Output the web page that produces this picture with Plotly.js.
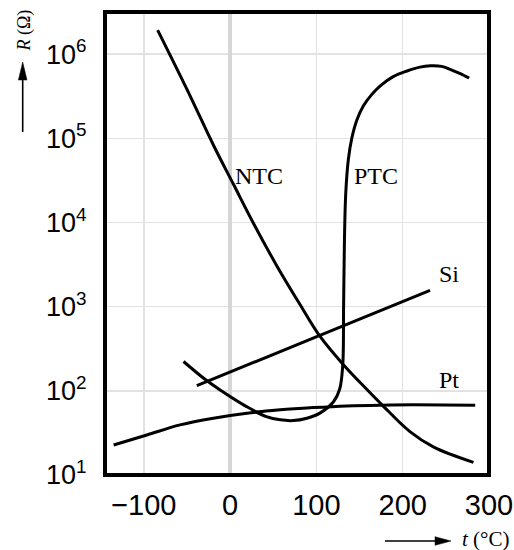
<!DOCTYPE html>
<html>
<head>
<meta charset="utf-8">
<script src="https://cdn.plot.ly/plotly-3.0.1.min.js"></script>
<style>html,body{margin:0;padding:0;background:#fff}</style>
</head>
<body>
<div id="chart" style="width:514px;height:550px"></div>
<script>
// Resistance vs temperature
var ntcT = [-84, -50, -19, 4, 27, 54, 81, 104, 131, 158, 178, 208, 236, 282];
var ntcR = [1.93e6, 3.81e5, 8.15e4, 2.82e4, 9.8e3, 3.07e3, 1.06e3, 446, 206, 105, 65, 33, 21.4, 14.1];

var ptcT = [-54, -31, -12, 19, 42, 58, 73, 89, 104, 120, 127, 130.5, 131.5, 132.5, 134, 137, 141, 147, 154.5, 164, 174, 189, 205, 220, 232, 245, 255, 266, 277];
var ptcR = [223, 142, 103, 65, 49.4, 45.2, 44.3, 47.3, 54.3, 74.6, 105, 200, 1000, 6300, 2.24e4, 5.6e4, 1.0e5, 1.66e5, 2.43e5, 3.3e5, 4.2e5, 5.4e5, 6.3e5, 7.0e5, 7.25e5, 7.15e5, 6.6e5, 5.9e5, 5.2e5];

var siT = [-38.6, 104, 231.7];
var siR = [115, 457, 1560];

var ptT = [-135, -96.5, -58, -19.4, 19.4, 58, 96.5, 135, 174, 212, 284];
var ptR = [22.7, 29.9, 39.4, 47.3, 54.2, 59.4, 63.2, 66.2, 67.6, 68.1, 67.6];

var xTickVals = [-100, 0, 100, 200, 300];
var xTickText = ['\u2212100', '0', '100', '200', '300'];
var yTickVals = [10, 100, 1000, 10000, 100000, 1000000];
var yTickText = ['10<sup>1</sup>', '10<sup>2</sup>', '10<sup>3</sup>', '10<sup>4</sup>', '10<sup>5</sup>', '10<sup>6</sup>'];

var curveLabels = ['NTC', 'PTC', 'Si', 'Pt'];

// plot-area geometry helpers (pixels -> paper)
var L = 105, R = 25, T = 12, B = 75, W = 514, H = 550;
var pw = W - L - R, ph = H - T - B;
function px(x) { return (x - L) / pw; }
function py(y) { return (H - B - y) / ph; }

function curve(x, y) {
  return {x: x, y: y, type: 'scatter', mode: 'lines',
    line: {color: '#000', width: 3, shape: 'spline', smoothing: 1},
    hoverinfo: 'skip'};
}

var data = [curve(ptT, ptR), curve(siT, siR), curve(ntcT, ntcR), curve(ptcT, ptcR)];

var serif = 'Liberation Serif, Times New Roman, serif';
var labelPos = [[32.9, 4.546], [169.1, 4.552], [253.1, 3.388], [253.7, 2.129]];
var annotations = curveLabels.map(function (t, i) {
  return {text: t, x: labelPos[i][0], y: labelPos[i][1], xref: 'x', yref: 'y',
    xanchor: 'center', yanchor: 'middle',
    showarrow: false, font: {family: serif, size: 24, color: '#000'}};
});
annotations.push({text: '<i>R</i> (\u03A9)', x: px(23.5), y: py(31), xref: 'paper', yref: 'paper',
  xanchor: 'center', yanchor: 'middle',
  textangle: -90, showarrow: false, font: {family: serif, size: 18, color: '#000'}});
annotations.push({text: '<i>t</i> (\u00B0C)', x: px(486), y: py(539), xref: 'paper', yref: 'paper',
  xanchor: 'center', yanchor: 'middle',
  showarrow: false, font: {family: serif, size: 21, color: '#000'}});

var shapes = [
  {type: 'rect', xref: 'paper', yref: 'paper', x0: 0, x1: 1, y0: 0, y1: 1,
    line: {color: '#000', width: 4}, layer: 'above'},
  // y-title arrow
  {type: 'line', xref: 'paper', yref: 'paper', x0: px(22.7), x1: px(22.7), y0: py(132), y1: py(78),
    line: {color: '#000', width: 1.6}},
  {type: 'path', xref: 'paper', yref: 'paper',
    path: 'M' + px(22.7) + ',' + py(62) + ' L' + px(18.4) + ',' + py(80) + ' L' + px(27) + ',' + py(80) + ' Z',
    fillcolor: '#000', line: {color: '#000', width: 0.5}},
  // x-title arrow
  {type: 'line', xref: 'paper', yref: 'paper', x0: px(385), x1: px(437), y0: py(541), y1: py(541),
    line: {color: '#000', width: 1.6}},
  {type: 'path', xref: 'paper', yref: 'paper',
    path: 'M' + px(451) + ',' + py(541) + ' L' + px(435) + ',' + py(536.7) + ' L' + px(435) + ',' + py(545.3) + ' Z',
    fillcolor: '#000', line: {color: '#000', width: 0.5}}
];

var layout = {
  width: W, height: H,
  margin: {l: L, r: R, t: T, b: B, pad: 0},
  paper_bgcolor: '#fff', plot_bgcolor: '#fff',
  showlegend: false,
  font: {family: 'Liberation Sans, Arial, sans-serif', color: '#000'},
  xaxis: {range: [-145, 300], tickvals: xTickVals, ticktext: xTickText,
    showgrid: true, gridcolor: '#e2e2e2', gridwidth: 1.5,
    zeroline: true, zerolinecolor: '#d6d6d6', zerolinewidth: 4,
    showline: false, ticks: 'outside', ticklen: 4, tickcolor: 'rgba(0,0,0,0)',
    ticklabeloverflow: 'allow',
    tickfont: {size: 29, family: 'Liberation Sans, Arial, sans-serif', color: '#000'}},
  yaxis: {type: 'log', range: [1, 6.5], tickvals: yTickVals, ticktext: yTickText,
    showgrid: true, gridcolor: '#e2e2e2', gridwidth: 1.5,
    showline: false, ticks: 'outside', ticklen: 12, tickcolor: 'rgba(0,0,0,0)',
    tickfont: {size: 27, family: 'Liberation Sans, Arial, sans-serif', color: '#000'}},
  annotations: annotations,
  shapes: shapes
};

Plotly.newPlot('chart', data, layout, {staticPlot: true, displayModeBar: false});
</script>
</body>
</html>
